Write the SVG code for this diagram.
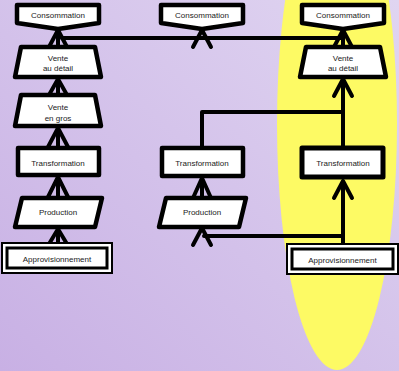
<svg xmlns="http://www.w3.org/2000/svg" width="399" height="371" viewBox="0 0 399 371">
<defs>
<linearGradient id="bg" x1="0" y1="1" x2="1" y2="0">
<stop offset="0" stop-color="#c8b0e4"/>
<stop offset="1" stop-color="#e0d5f1"/>
</linearGradient>
</defs>
<style>
.s{fill:#fff;stroke:#000;stroke-width:4.5;stroke-linejoin:round}
.o{fill:#fff;stroke:#000;stroke-width:2}
.i{fill:#fff;stroke:#000;stroke-width:3}
.c{fill:none;stroke:#000;stroke-width:4;stroke-linecap:round;stroke-linejoin:round}
text{font-family:"Liberation Sans",Arial,sans-serif;font-size:8px;fill:#222;text-anchor:middle}
</style>
<rect width="399" height="371" fill="url(#bg)"/>
<ellipse cx="337" cy="124" rx="60" ry="246" fill="#fdfa64"/>
<g id="connectors">
<path class="c" d="M62,38 H343"/>
<path class="c" d="M58,47 V30 M49,47 L58,30 L67,47"/>
<path class="c" d="M193,47 L202,30 L211,47"/>
<path class="c" d="M343,47 V30 M334,47 L343,30 L352,47"/>
<path class="c" d="M58,95 V79 M49,95 L58,79 L67,95"/>
<path class="c" d="M58,147 V128 M48,147 L58,128 L68,147"/>
<path class="c" d="M58,198 V177 M48,197 L58,177 L68,197"/>
<path class="c" d="M58,244 V229 M49,244 L58,229 L67,244"/>
<path class="c" d="M202,148 V112 H343"/>
<path class="c" d="M343,148 V79 M334,96 L343,79 L352,96"/>
<path class="c" d="M202,198 V178 M193,198 L202,178 L211,198"/>
<path class="c" d="M343,244 V181 M334,198 L343,181 L352,198"/>
<path class="c" d="M343,236 H204 M193,245 L202,228 L211,245"/>
</g>
<g id="conso1"><path class="s" d="M17,5 H99 V23 L58,29 L17,23 Z"/><text x="58" y="18">Consommation</text></g>
<g id="conso2"><path class="s" d="M161,5 H243 V23 L202,29 L161,23 Z"/><text x="202" y="18">Consommation</text></g>
<g id="conso3"><path class="s" d="M302,5 H384 V23 L343,29 L302,23 Z"/><text x="343" y="18">Consommation</text></g>
<g id="detail1"><path class="s" d="M21,47 H95 L101,77 H15 Z"/><text x="58" y="61">Vente</text><text x="58" y="71">au détail</text></g>
<g id="detail3"><path class="s" d="M306,47 H380 L386,77 H300 Z"/><text x="343" y="61">Vente</text><text x="343" y="71">au détail</text></g>
<g id="gros1"><path class="s" d="M21,95 H95 L101,126 H15 Z"/><text x="58" y="110">Vente</text><text x="58" y="121">en gros</text></g>
<g id="transfo1"><rect class="s" x="18" y="148" width="81" height="27"/><text x="58" y="166">Transformation</text></g>
<g id="transfo2"><rect class="s" x="162" y="148" width="81" height="28"/><text x="202" y="166">Transformation</text></g>
<g id="transfo3"><rect class="s" x="302" y="148" width="81" height="29" style="stroke-width:5"/><text x="343" y="166">Transformation</text></g>
<g id="prod1"><path class="s" d="M22,198 H102 L95,227 H15 Z"/><text x="58" y="215">Production</text></g>
<g id="prod2"><path class="s" d="M166,198 H246 L239,227 H159 Z"/><text x="202" y="215">Production</text></g>
<g id="appro1"><rect class="o" x="2" y="243" width="110" height="30"/><rect class="i" x="7" y="248" width="100" height="20"/><text x="57" y="262">Approvisionnement</text></g>
<g id="appro3"><rect class="o" x="287" y="244" width="111" height="30"/><rect class="i" x="292" y="249" width="101" height="20"/><text x="342.5" y="263">Approvisionnement</text></g>
</svg>
